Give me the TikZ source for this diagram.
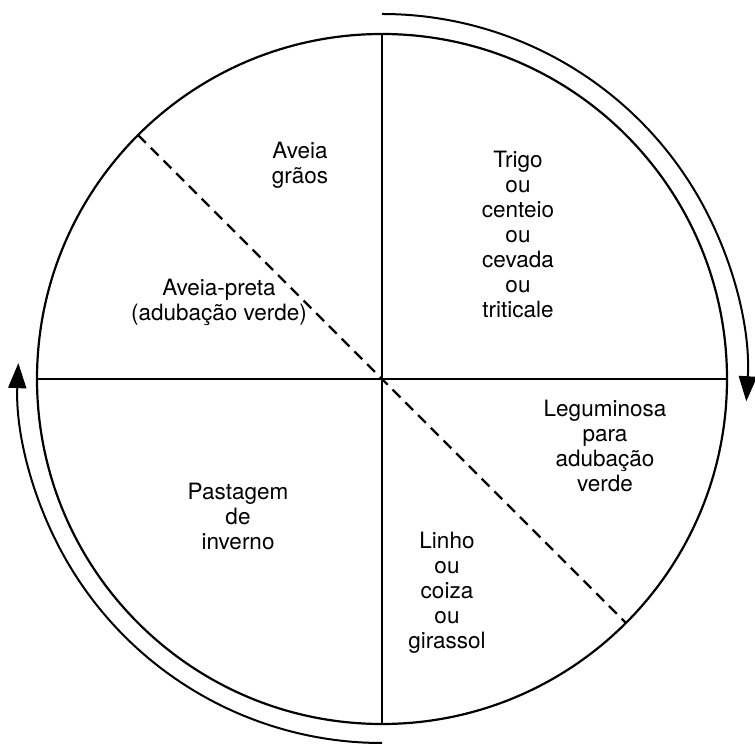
\documentclass[tikz,border=0pt]{standalone}
\usepackage{fontspec}
\setmainfont{TeX Gyre Heros}
\usetikzlibrary{arrows.meta,calc}
\tikzset{
  rim/.style={line width=2.2pt},
  divider/.style={line width=2pt},
  dashdiv/.style={line width=2.2pt, dash pattern=on 11pt off 7pt},
  cyclearrow/.style={line width=2pt, -{Triangle[width=18pt,length=25pt]}},
  crop/.style={align=center, font=\fontsize{22.5}{25}\selectfont, inner sep=0pt}
}
\begin{document}
\begin{tikzpicture}[x=1pt,y=1pt]
\useasboundingbox (0,0) rectangle (755,744);
\coordinate (C) at (382,365);
\draw[rim] (C) circle[radius=345];
\coordinate (T) at ($(C)+(90:345)$);
\coordinate (B) at ($(C)+(-90:345)$);
\coordinate (L) at ($(C)+(180:345)$);
\coordinate (R) at ($(C)+(0:345)$);
\coordinate (UL) at ($(C)+(135:345)$);
\coordinate (LR) at ($(C)+(-45:345)$);
\draw[divider] (T) -- (B);
\draw[divider] (L) -- (R);
\draw[dashdiv] (UL) -- (LR);
\coordinate (A1) at ($(C)+(90:365)$);
\coordinate (A2) at ($(C)+(-90:364)$);
\draw[cyclearrow] (A1) arc[start angle=90, end angle=-3.5, radius=365];
\draw[cyclearrow] (A2) arc[start angle=-90, end angle=-182.5, radius=364];
\node[crop] (aveiagraos) at (300,579) {Aveia\\grãos};
\node[crop] (trigo) at (518,510) {Trigo\\ou\\centeio\\ou\\cevada\\ou\\triticale};
\node[crop] (aveiapreta) at (219,442) {Aveia-preta\\(adubação verde)};
\node[crop] (leguminosa) at (605,298) {Leguminosa\\para\\adubação\\verde};
\node[crop] (pastagem) at (238,228) {Pastagem\\de\\inverno};
\node[crop] (linho) at (447,151) {Linho\\ou\\coiza\\ou\\girassol};
\end{tikzpicture}
\end{document}
